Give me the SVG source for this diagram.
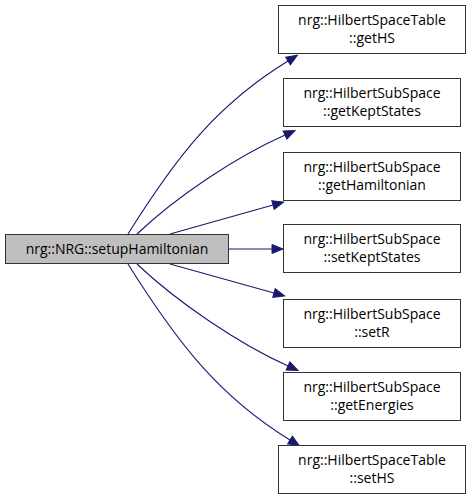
<svg xmlns="http://www.w3.org/2000/svg" width="472" height="499" viewBox="0 0 472 499">
<defs>
<style>
.node rect{fill:#fff;stroke:#333;stroke-width:1}
#root rect{fill:#bfbfbf}
text{font-family:"Open Sans","Liberation Sans",sans-serif;font-size:14px;fill:#000;text-anchor:middle}
.edge{fill:none;stroke:#191970;stroke-width:1.1;marker-end:url(#arr)}
</style>
<marker id="arr" markerUnits="userSpaceOnUse" markerWidth="14" markerHeight="12" refX="0" refY="5" orient="auto" viewBox="0 0 14 10" overflow="visible">
<path d="M0,0.5 L11,5 L0,9.5 z" fill="#191970" stroke="#191970" stroke-width="1"/>
</marker>
</defs>
<rect width="472" height="499" fill="#fff"/>
<g id="edges">
<path class="edge" d="M128,234 C178,154 218,104 288,61"/>
<path class="edge" d="M137,234 C177,196 235,157.5 285,135"/>
<path class="edge" d="M170,234 L273,205"/>
<path class="edge" d="M229,249 L272,249"/>
<path class="edge" d="M170,264 L274,293"/>
<path class="edge" d="M137,264 C177,302 239,344 288,366"/>
<path class="edge" d="M128,264 C178,344 220,397 290,440"/>
</g>
<g id="root" class="node">
<rect x="5.5" y="234.5" width="223" height="29"/>
<text x="117" y="254">nrg::NRG::setupHamiltonian</text>
</g>
<g id="n1" class="node">
<rect x="278.5" y="5.5" width="187" height="48"/>
<text x="372" y="24.5">nrg::HilbertSpaceTable</text>
<text x="372" y="42.5">::getHS</text>
</g>
<g id="n2" class="node">
<rect x="283.5" y="78.5" width="177" height="48"/>
<text x="372" y="97.5">nrg::HilbertSubSpace</text>
<text x="372" y="115.5">::getKeptStates</text>
</g>
<g id="n3" class="node">
<rect x="283.5" y="152.5" width="177" height="48"/>
<text x="372" y="171.5">nrg::HilbertSubSpace</text>
<text x="372" y="189.5">::getHamiltonian</text>
</g>
<g id="n4" class="node">
<rect x="283.5" y="224.5" width="177" height="48"/>
<text x="372" y="243.5">nrg::HilbertSubSpace</text>
<text x="372" y="261.5">::setKeptStates</text>
</g>
<g id="n5" class="node">
<rect x="283.5" y="299.5" width="177" height="48"/>
<text x="372" y="318.5">nrg::HilbertSubSpace</text>
<text x="372" y="336.5">::setR</text>
</g>
<g id="n6" class="node">
<rect x="283.5" y="372.5" width="177" height="48"/>
<text x="372" y="391.5">nrg::HilbertSubSpace</text>
<text x="372" y="409.5">::getEnergies</text>
</g>
<g id="n7" class="node">
<rect x="278.5" y="445.5" width="187" height="48"/>
<text x="372" y="464.5">nrg::HilbertSpaceTable</text>
<text x="372" y="482.5">::setHS</text>
</g>
</svg>
